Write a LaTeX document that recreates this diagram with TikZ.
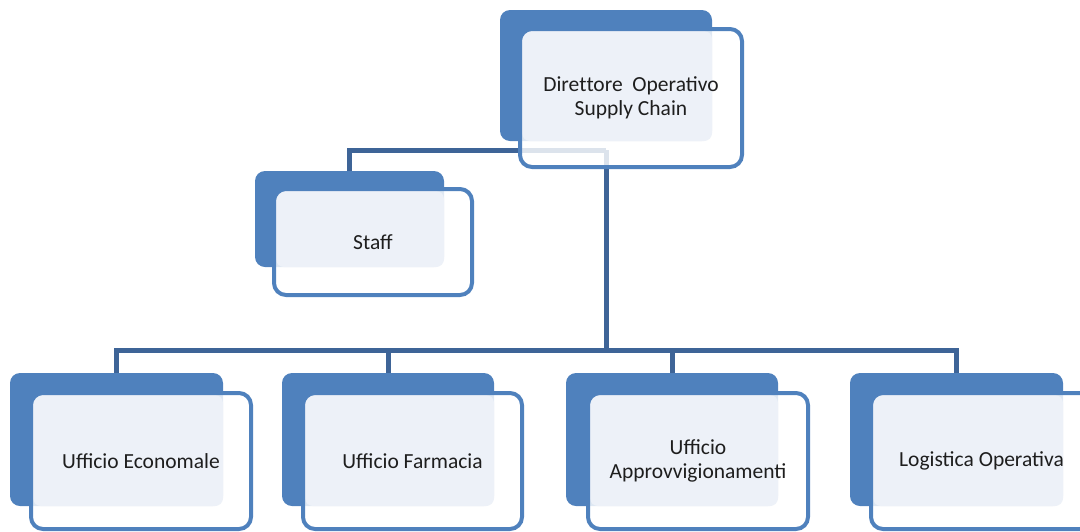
\documentclass[tikz,border=0pt]{standalone}
\usepackage{fontspec}
\setmainfont{Carlito}
\usetikzlibrary{fit,calc}
\definecolor{boxblue}{HTML}{4F81BD}
\definecolor{lineblue}{HTML}{3E6497}
\definecolor{lightfill}{HTML}{EDF1F8}
\definecolor{txtgray}{HTML}{1E1E1E}
\begin{document}
\begin{tikzpicture}[x=1pt,y=-1pt,
  backbox/.style={draw=none,fill=boxblue,rounded corners=10pt,inner sep=0pt,outer sep=0pt},
  frontfill/.style={draw=none,fill=white,fill opacity=0.82,rounded corners=12pt,inner sep=0pt,outer sep=0pt},
  frontline/.style={draw=boxblue,line width=4pt,rounded corners=12pt},
  lightbox/.style={fill=lightfill,rounded corners=8pt},
  lbl/.style={text=txtgray,font=\fontsize{21.5}{23.5}\selectfont,align=center,inner sep=0pt},
  conn/.style={draw=lineblue,line width=5pt}]
\useasboundingbox (0,0) rectangle (1080,531);
\clip (0,0) rectangle (1080,531);

% back boxes
\node[backbox,fit={(500,10) (712,141)}] (dirB) {};
\node[backbox,fit={(255,171) (444,267)}] (staffB) {};
\node[backbox,fit={(10,373) (223,506)}] (econB) {};
\node[backbox,fit={(282,373) (494,506)}] (farmB) {};
\node[backbox,fit={(566,373) (778,506)}] (apprB) {};
\node[backbox,fit={(850,373) (1063,506)}] (logB) {};

% connectors
\coordinate (dirJ) at ($(dirB.south)+(0,9)$);
\coordinate (bus) at ($(dirB.south)+(0,209)$);
\draw[conn] (dirJ) -| (staffB.north);
\draw[conn] (dirJ) -- (bus);
\draw[conn] (bus) -| (econB.north);
\draw[conn] (bus) -| (farmB.north);
\draw[conn] (bus) -| (apprB.north);
\draw[conn] (bus) -| (logB.north);

% front boxes
\newcommand\frontunit[4]{%
  \node[frontfill,fit={#3}] (#1F) {};
  \fill[lightbox] ($(#1F.north west)+(2,2)$) rectangle (#2.south east);
  \draw[frontline] (#1F.north west) rectangle (#1F.south east);
  \node[lbl] (#1T) at (#1F.center) {#4};
}
\frontunit{dir}{dirB}{(520,29) (742,167)}{Diret\kern0pt tore~ Operativo\\Supply Chain}
\frontunit{staff}{staffB}{(274,189) (472,295)}{Staff}
\frontunit{econ}{econB}{(31,393) (251,529)}{Ufficio Economale}
\frontunit{farm}{farmB}{(303,393) (522,529)}{Ufficio Farmacia}
\frontunit{appr}{apprB}{(588,393) (808,529)}{Ufficio\\Approvvigionamenti}
\frontunit{log}{logB}{(871,393) (1092,529)}{Logistica Operativa}
\end{tikzpicture}
\end{document}
